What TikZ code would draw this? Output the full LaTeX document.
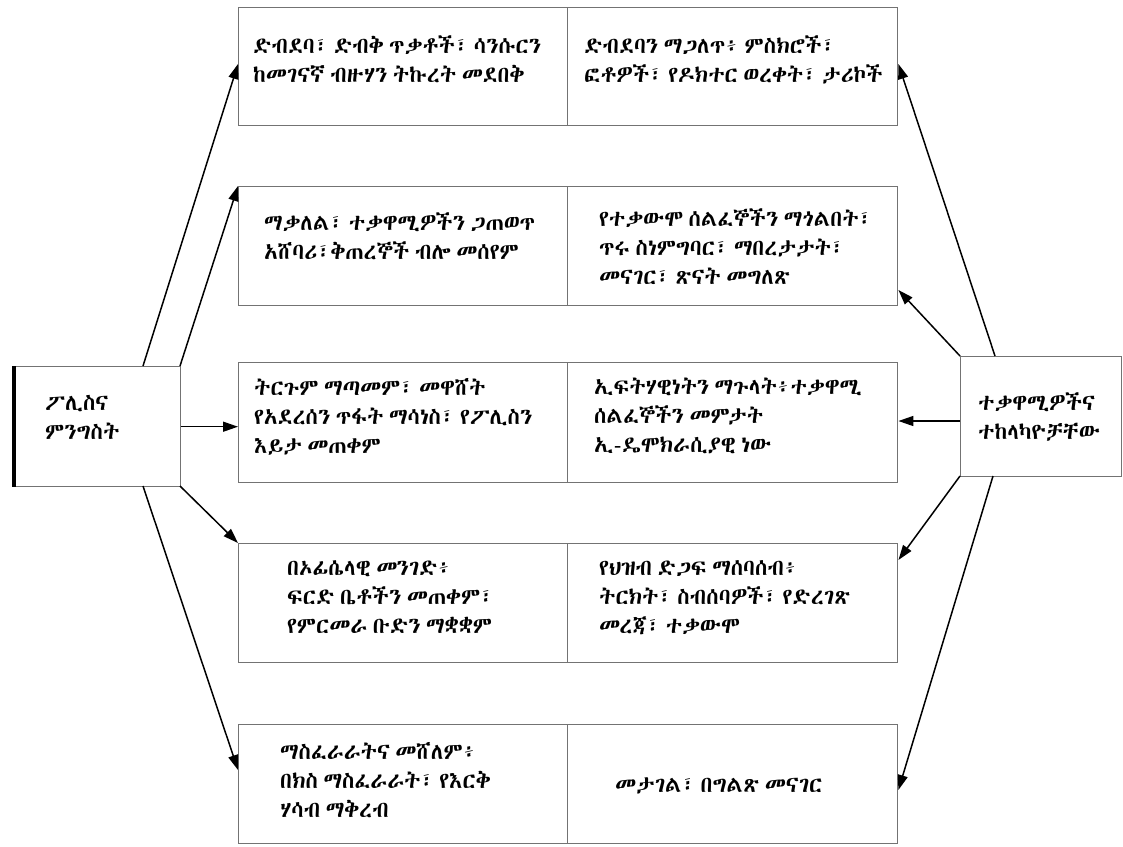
\documentclass[tikz,border=0pt]{standalone}
\usepackage{fontspec}
\IfFontExistsTF{Abyssinica SIL}{\setmainfont[WordSpace=0.55]{Abyssinica SIL}}{%
 \IfFontExistsTF{FreeSans}{\setmainfont[WordSpace=0.55]{FreeSans}}{%
  \IfFontExistsTF{FreeSerif}{\setmainfont[WordSpace=0.55]{FreeSerif}}{\setmainfont{DejaVu Sans}}}}
\usetikzlibrary{arrows.meta}
\begin{document}
\begin{tikzpicture}[x=1pt,y=-1pt,
  box/.style={draw=black!55,line width=1.4pt,fill=white,rectangle,anchor=north west,inner sep=0pt},
  txt/.style={anchor=north west,inner sep=0pt,align=left,font=\fontsize{22.5}{29}\selectfont},
  arr/.style={line width=1.5pt,-{Triangle[length=15pt,width=10pt]}}]
\useasboundingbox (0,0) rectangle (1123,846);
% boxes
\node[box,minimum width=329pt,minimum height=118pt] (b1l) at (238,7) {};
\node[box,minimum width=330pt,minimum height=118pt] (b1r) at (567,7) {};
\node[box,minimum width=329pt,minimum height=119pt] (b2l) at (238,186) {};
\node[box,minimum width=330pt,minimum height=119pt] (b2r) at (567,186) {};
\node[box,minimum width=329pt,minimum height=120pt] (b3l) at (238,362) {};
\node[box,minimum width=330pt,minimum height=120pt] (b3r) at (567,362) {};
\node[box,minimum width=329pt,minimum height=119pt] (b4l) at (238,543) {};
\node[box,minimum width=330pt,minimum height=119pt] (b4r) at (567,543) {};
\node[box,minimum width=329pt,minimum height=119pt] (b5l) at (238,724) {};
\node[box,minimum width=330pt,minimum height=119pt] (b5r) at (567,724) {};
\node[box,minimum width=166pt,minimum height=120pt] (pol) at (14,366) {};
\node[box,minimum width=161pt,minimum height=120pt] (opp) at (960,356) {};
\draw[line width=3.5pt,black] (pol.north west) -- (pol.south west);
% texts
\node[txt] (t1l) at (253,35) {ድብደባ፣ ድብቅ ጥቃቶች፣ ሳንሱርን\\ከመገናኛ ብዙሃን ትኩረት መደበቅ};
\node[txt] (t1r) at (584,35) {ድብደባን ማጋለጥ፥ ምስክሮች፣\\ፎቶዎች፣ የዶክተር ወረቀት፣ ታሪኮች};
\node[txt] (t2l) at (264,212) {ማቃለል፣ ተቃዋሚዎችን ጋጠወጥ\\አሸባሪ፣ቅጠረኞች ብሎ መሰየም};
\node[txt] (t2r) at (599,208) {የተቃውሞ ሰልፈኞችን ማጎልበት፣\\ጥሩ ስነምግባር፣ ማበረታታት፣\\መናገር፣ ጽናት መግለጽ};
\node[txt] (t3l) at (254,378) {ትርጉም ማጣመም፣ መዋሸት\\የአደረሰን ጥፋት ማሳነስ፣ የፖሊስን\\እይታ መጠቀም};
\node[txt] (t3r) at (594,378) {ኢፍትሃዊነትን ማጉላት፥ተቃዋሚ\\ሰልፈኞችን መምታት\\ኢ-ዴሞክራሲያዊ ነው};
\node[txt] (t4l) at (287,560) {በኦፊሴላዊ መንገድ፥\\ፍርድ ቤቶችን መጠቀም፣\\የምርመራ ቡድን ማቋቋም};
\node[txt] (t4r) at (599,560) {የህዝብ ድጋፍ ማሰባሰብ፥\\ትርክት፣ ስብሰባዎች፣ የድረገጽ\\መረጃ፣ ተቃውሞ};
\node[txt] (t5l) at (280,742) {ማስፈራራትና መሸለም፥\\በክስ ማስፈራራት፣ የእርቅ\\ሃሳብ ማቅረብ};
\node[txt] (t5r) at (615,777) {መታገል፣ በግልጽ መናገር};
\node[txt] (tpol) at (45,395) {ፖሊስና\\ምንግስት};
\node[txt] (topp) at (978,392) {ተቃዋሚዎችና\\ተከላካዮቻቸው};
% arrows left
\coordinate (pa) at (143,366);
\coordinate (pb) at (180,366);
\coordinate (pc) at (143,486);
\coordinate (pd) at (180,486);
\draw[arr] (pa) -- (b1l.west |- 0,64);
\draw[arr] (pb) -- (b2l.north west);
\draw[arr] (pol.east) -- (b3l.west |- pol.east);
\draw[arr] (pd) -- (b4l.north west);
\draw[arr] (pc) -- (b5l.west |- 0,770);
% arrows right
\coordinate (oa) at (995,356);
\coordinate (ob) at (960,356);
\coordinate (oc) at (960,476);
\coordinate (od) at (993,476);
\draw[arr] (oa) -- (b1r.east |- 0,64);
\draw[arr] (ob) -- (b2r.east |- 0,290);
\draw[arr] (opp.west |- 0,421) -- (b3r.east |- 0,421);
\draw[arr] (oc) -- (b4r.east |- 0,560);
\draw[arr] (od) -- (b5r.east |- 0,790);
\end{tikzpicture}
\end{document}
